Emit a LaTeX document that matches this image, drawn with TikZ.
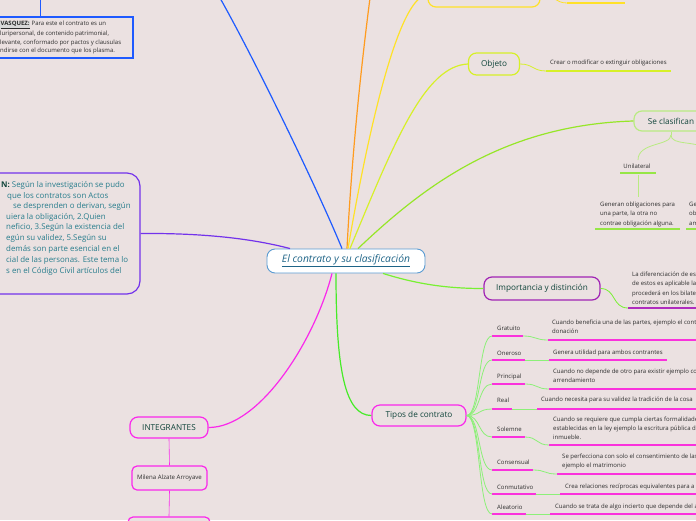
\documentclass[tikz,border=0pt]{standalone}
\usepackage{fontspec}
\setmainfont{Open Sans}
\definecolor{bgc}{RGB}{235,225,225}
\definecolor{nodetxt}{RGB}{15,68,58}
\definecolor{desctxt}{RGB}{45,45,45}
\definecolor{centtxt}{RGB}{30,100,135}
\definecolor{centbd}{RGB}{90,155,210}
\definecolor{cblue}{RGB}{30,90,255}
\definecolor{corange}{RGB}{255,155,30}
\definecolor{cyellow}{RGB}{255,225,40}
\definecolor{cyg}{RGB}{215,240,40}
\definecolor{cgreen}{RGB}{150,230,40}
\definecolor{cgreen2}{RGB}{120,240,50}
\definecolor{cgreen3}{RGB}{70,235,40}
\definecolor{cmag}{RGB}{250,40,235}
\definecolor{cpurple}{RGB}{115,50,235}
\definecolor{lgreen}{RGB}{140,240,120}
\definecolor{ulmag}{RGB}{250,50,220}
\definecolor{ulpur}{RGB}{175,45,190}
\definecolor{ulgreen}{RGB}{150,230,70}
\definecolor{conctxt}{RGB}{40,125,140}
\definecolor{sclgreen}{RGB}{185,235,130}
\definecolor{impbd}{RGB}{160,35,180}
\begin{document}
\begin{tikzpicture}[x=1pt,y=-1pt,
  topic/.style={draw, rounded corners=8pt, line width=1.2pt, fill=bgc, text=nodetxt,
    font=\fontsize{8.2}{9}\selectfont, inner sep=0pt},
  desc/.style={anchor=north west, align=left, inner sep=0pt, text=desctxt,
    font=\fontsize{6}{9.5}\selectfont},
  dline/.style={anchor=west, inner sep=0pt, text=desctxt, font=\fontsize{6}{7}\selectfont},
  lbl/.style={anchor=west, inner sep=0pt, text=desctxt, font=\fontsize{6}{7}\selectfont},
  main/.style={line width=1.2pt},
  sub/.style={lgreen, line width=0.8pt},
  ulm/.style={ulmag, line width=1.6pt},
  ctext/.style={anchor=west, inner sep=0pt, text=conctxt, font=\fontsize{7.9}{9}\selectfont},
  btext/.style={anchor=west, inner sep=0pt, text=desctxt, font=\fontsize{6}{8}\selectfont}
]
\path[use as bounding box, fill=bgc] (0,0) rectangle (696,520);
\begin{scope}
\clip (0,0) rectangle (696,520);

% ---------- nodes ----------
\node[draw=centbd, fill=white, line width=0.9pt, rounded corners=8pt, minimum width=158pt,
  minimum height=24pt, inner sep=0pt, text=centtxt, font=\fontsize{10.3}{11}\selectfont\itshape]
  (central) at (346,261) {\underline{El contrato y su clasificación}};

\node[topic, draw=cyellow, minimum width=112pt, minimum height=24pt] (ytop) at (484,-5) {};
\node[topic, draw=cyg, minimum width=51pt, minimum height=22pt] (obj) at (494,64) {Objeto};
\node[topic, draw=sclgreen, minimum width=74pt, minimum height=20pt] (scl) at (671,121) {Se clasifican};
\node[topic, draw=impbd, minimum width=116pt, minimum height=23pt] (imp) at (542,288.5) {Importancia y distinción};
\node[topic, draw=cmag, minimum width=94pt, minimum height=21pt] (tipos) at (419,415.5) {Tipos de contrato};
\node[topic, draw=cmag, minimum width=78pt, minimum height=21pt] (integ) at (169,427.5) {INTEGRANTES};
\node[topic, draw=cmag, rounded corners=5pt, minimum width=75pt, minimum height=24pt,
  font=\fontsize{6.1}{7}\selectfont, text=desctxt] (milena) at (169.5,478) {Milena Alzate Arroyave};
\node[topic, draw=cmag, rounded corners=5pt, minimum width=82pt, minimum height=26pt] (next) at (169,530) {};

% conclusion box
\node[draw=cpurple, line width=1.2pt, rounded corners=13pt, minimum width=180pt,
  minimum height=121pt, inner sep=0pt] (concl) at (50,233.5) {};
\node[ctext] (c1) at (1,185) {\textbf{\color{nodetxt}N:} Según la investigación se pudo};
\node[ctext] (c2) at (7,196) {que los contratos son Actos};
\node[ctext] (c3) at (13,206) {se desprenden o derivan, según};
\node[ctext] (c4) at (6,217) {uiera la obligación, 2.Quien};
\node[ctext] (c5) at (6,227) {neficio, 3.Según la existencia del};
\node[ctext] (c6) at (6,238) {egún su validez, 5.Según su};
\node[ctext] (c7) at (6,249) {demás son parte esencial en el};
\node[ctext] (c8) at (6,260) {cial de las personas. Este tema lo};
\node[ctext] (c9) at (6,271) {s en el Código Civil artículos del};

% blue box
\node[draw=cblue, line width=1.3pt, minimum width=186pt, minimum height=41pt, inner sep=0pt]
  (bbox) at (40,37.5) {};
\node[btext] (b1) at (0,25) {\fboxsep=0.5pt\colorbox{black!15}{\textbf{\underline{VASQUEZ:}}} Para este el contrato es un};
\node[btext] (b2) at (0,34) {luripersonal, de contenido patrimonial,};
\node[btext] (b3) at (0,43) {levante, conformado por pactos y clausulas};
\node[btext] (b4) at (0,51) {ndirse con el documento que los plasma.};
\coordinate (bbTop) at (40,-2);
\draw[cblue, line width=0.6pt] (bbTop) -- (bbox.north);

% ---------- main branches ----------
\coordinate (blueEnd) at (220,-2);
\coordinate (orEnd) at (370,-2);
\draw[main, cblue] ([xshift=-4pt]central.north) .. controls (318,190) and (255,60) .. (blueEnd);
\draw[main, corange] ([xshift=1pt]central.north) .. controls (352,150) and (362,60) .. (orEnd);
\draw[main, cyellow] ([xshift=2pt]central.north) .. controls (370,120) and (400,-5) .. (ytop.west);
\draw[main, cyg] ([xshift=4pt]central.north) .. controls (395,140) and (425,66) .. (obj.west);
\draw[main, cgreen] ([xshift=12pt]central.north) .. controls (420,190) and (500,125) .. (scl.west);
\draw[main, cgreen2] ([xshift=37pt]central.south) .. controls (420,285) and (450,288.5) .. (imp.west);
\draw[main, cgreen3] ([xshift=-10pt]central.south) .. controls (336,370) and (345,415.5) .. (tipos.west);
\draw[main, cmag] ([xshift=-14pt]central.south) .. controls (315,340) and (260,427.5) .. (integ.east);
\draw[main, cpurple] (concl.east) .. controls (200,233) and (250,238) .. ([xshift=-56pt]central.north);

% ---------- top yellow node child ----------
\coordinate (yA) at (567,3); \coordinate (yB) at (625,3);
\draw[cyellow, line width=0.8pt] (ytop.east) .. controls (555,-5) and (555,3) .. (yA);
\draw[cyellow, line width=1.6pt] (yA) -- (yB);

% ---------- Objeto ----------
\coordinate (oA) at (546,71); \coordinate (oB) at (671,71);
\draw[cyg, line width=0.8pt] (obj.east) .. controls (533,64) and (533,71) .. (oA);
\draw[cyg, line width=1.6pt] (oA) -- (oB);
\node[dline] (od) at (550,63) {Crear o modificar o extinguir obligaciones};

% ---------- Se clasifican ----------
\coordinate (sS) at (671,135);
\coordinate (uniTop) at (638,160);
\coordinate (rEnd) at (710,150);
\draw[sclgreen, line width=0.8pt] (scl.south) -- (sS);
\draw[sclgreen, line width=0.8pt] (sS) .. controls (671,146) and (638,142) .. (uniTop);
\draw[sclgreen, line width=0.8pt] (sS) .. controls (671,146) and (696,140) .. (rEnd);
\node[lbl, anchor=center] (uni) at (637,166) {Unilateral};
\coordinate (uA) at (620,173); \coordinate (uB) at (656,173);
\draw[ulgreen, line width=1.6pt] (uA) -- (uB);
\coordinate (uV1) at (638,175); \coordinate (uV2) at (638,197);
\draw[sclgreen, line width=0.8pt] (uV1) -- (uV2);
\node[desc] (unid) at (600,201.5) {Generan obligaciones para\\una parte, la otra no\\contrae obligación alguna.};
\coordinate (udA) at (595,229); \coordinate (udB) at (680,229);
\draw[ulgreen, line width=1.6pt] (udA) -- (udB);
\node[desc] (bild) at (689,201.5) {Gen\\ob\\am};
\coordinate (bdA) at (686,229); \coordinate (bdB) at (700,229);
\draw[ulgreen, line width=1.6pt] (bdA) -- (bdB);

% ---------- Importancia ----------
\coordinate (iA) at (628,308); \coordinate (iB) at (700,308);
\draw[cgreen2, line width=0.8pt] (imp.east) .. controls (616,288.5) and (612,308) .. (iA);
\draw[ulpur, line width=1.6pt] (iA) -- (iB);
\node[desc] (impd) at (632,271.5) {La diferenciación de es\\de estos es aplicable la\\procederá en los bilate\\contratos unilaterales.};

% ---------- Tipos de contrato ----------
% Gratuito
\node[lbl] (gra) at (497,328) {Gratuito};
\coordinate (graA) at (492,336); \coordinate (graB) at (523,336);
\coordinate (graC) at (548,340); \coordinate (graD) at (700,340);
\draw[ulm] (graA) -- (graB); \draw[ulm] (graC) -- (graD);
\draw[sub] (graB) .. controls +(13,0) and +(-13,0) .. (graC);
\draw[sub] (tipos.east) .. controls +(14,0) and +(-14,0) .. (graA);
\node[desc] (grad) at (552,319.5) {Cuando beneficia una de las partes, ejemplo el cont\\donación};
% Oneroso
\node[lbl] (one) at (497,353) {Oneroso};
\coordinate (oneA) at (492,360); \coordinate (oneB) at (525,360);
\coordinate (oneC) at (549,360); \coordinate (oneD) at (667,360);
\draw[ulm] (oneA) -- (oneB); \draw[ulm] (oneC) -- (oneD);
\draw[sub] (oneB) -- (oneC);
\draw[sub] (tipos.east) .. controls +(14,0) and +(-14,0) .. (oneA);
\node[dline] (oned) at (553,353) {Genera utilidad para ambos contrantes};
% Principal
\node[lbl] (pri) at (497,377) {Principal};
\coordinate (priA) at (492,384); \coordinate (priB) at (525,384);
\coordinate (priC) at (549,389); \coordinate (priD) at (700,389);
\draw[ulm] (priA) -- (priB); \draw[ulm] (priC) -- (priD);
\draw[sub] (priB) .. controls +(13,0) and +(-13,0) .. (priC);
\draw[sub] (tipos.east) .. controls +(14,0) and +(-14,0) .. (priA);
\node[desc] (prid) at (553,368.5) {Cuando no depende de otro para existir ejemplo co\\arrendamiento};
% Real
\node[lbl] (rea) at (497,400) {Real};
\coordinate (reaA) at (492,409); \coordinate (reaB) at (512,409);
\coordinate (reaC) at (537,409); \coordinate (reaD) at (700,409);
\draw[ulm] (reaA) -- (reaB); \draw[ulm] (reaC) -- (reaD);
\draw[sub] (reaB) -- (reaC);
\draw[sub] (tipos.east) .. controls +(14,0) and +(-14,0) .. (reaA);
\node[dline] (read) at (541,400) {Cuando necesita para su validez la tradición de la cosa};
% Solemne
\node[lbl] (sol) at (497,429) {Solemne};
\coordinate (solA) at (492,437); \coordinate (solB) at (525,437);
\coordinate (solC) at (549,445); \coordinate (solD) at (700,445);
\draw[ulm] (solA) -- (solB); \draw[ulm] (solC) -- (solD);
\draw[sub] (solB) .. controls +(13,0) and +(-13,0) .. (solC);
\draw[sub] (tipos.east) .. controls +(14,0) and +(-14,0) .. (solA);
\node[desc, font=\fontsize{6}{9}\selectfont] (sold) at (553,416.5) {Cuando se requiere que cumpla ciertas formalidade\\establecidas en la ley ejemplo la escritura pública d\\inmueble.};
% Consensual
\node[lbl] (con) at (497,462) {Consensual};
\coordinate (conA) at (492,470); \coordinate (conB) at (533,470);
\coordinate (conC) at (557,474); \coordinate (conD) at (700,474);
\draw[ulm] (conA) -- (conB); \draw[ulm] (conC) -- (conD);
\draw[sub] (conB) .. controls +(13,0) and +(-13,0) .. (conC);
\draw[sub] (tipos.east) .. controls +(14,0) and +(-14,0) .. (conA);
\node[desc] (cond) at (562,453.5) {Se perfecciona con solo el consentimiento de las\\ejemplo el matrimonio};
% Conmutativo
\node[lbl] (cmt) at (497,487) {Conmutativo};
\coordinate (cmtA) at (492,494); \coordinate (cmtB) at (536,494);
\coordinate (cmtC) at (560,494); \coordinate (cmtD) at (700,494);
\draw[ulm] (cmtA) -- (cmtB); \draw[ulm] (cmtC) -- (cmtD);
\draw[sub] (cmtB) -- (cmtC);
\draw[sub] (tipos.east) .. controls +(14,0) and +(-14,0) .. (cmtA);
\node[dline] (cmtd) at (565,487) {Crea relaciones recíprocas equivalentes para a};
% Aleatorio
\node[lbl] (ale) at (497,507) {Aleatorio};
\coordinate (aleA) at (492,514); \coordinate (aleB) at (526,514);
\coordinate (aleC) at (550,514); \coordinate (aleD) at (700,514);
\draw[ulm] (aleA) -- (aleB); \draw[ulm] (aleC) -- (aleD);
\draw[sub] (aleB) -- (aleC);
\draw[sub] (tipos.east) .. controls +(14,0) and +(-14,0) .. (aleA);
\node[dline] (aled) at (555,507) {Cuando se trata de algo incierto que depende del a};

% ---------- integrantes ----------
\draw[cmag, line width=0.6pt] (integ.south) -- (milena.north);
\draw[cmag, line width=0.6pt] (milena.south) -- (next.north);
\end{scope}
\end{tikzpicture}
\end{document}
